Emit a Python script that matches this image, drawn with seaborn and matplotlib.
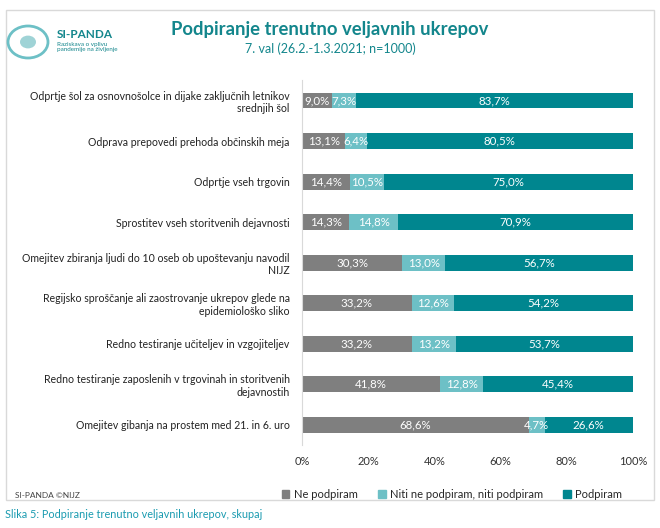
import numpy as np
import pandas as pd
import matplotlib.pyplot as plt
import seaborn as sns
from matplotlib.patches import Rectangle, Circle

categories = [
    "Odprtje šol za osnovnošolce in dijake zaključnih letnikov\nsrednjih šol",
    "Odprava prepovedi prehoda občinskih meja",
    "Odprtje vseh trgovin",
    "Sprostitev vseh storitvenih dejavnosti",
    "Omejitev zbiranja ljudi do 10 oseb ob upoštevanju navodil\nNIJZ",
    "Regijsko sproščanje ali zaostrovanje ukrepov glede na\nepidemiološko sliko",
    "Redno testiranje učiteljev in vzgojiteljev",
    "Redno testiranje zaposlenih v trgovinah in storitvenih\ndejavnostih",
    "Omejitev gibanja na prostem med 21. in 6. uro",
]
ne_podpiram = [9.0, 13.1, 14.4, 14.3, 30.3, 33.2, 33.2, 41.8, 68.6]
niti = [7.3, 6.4, 10.5, 14.8, 13.0, 12.6, 13.2, 12.8, 4.7]
podpiram = [83.7, 80.5, 75.0, 70.9, 56.7, 54.2, 53.7, 45.4, 26.6]
series_names = ["Ne podpiram", "Niti ne podpiram, niti podpiram", "Podpiram"]
colors = ["#7f7f7f", "#6dc0c6", "#00868f"]

df = pd.DataFrame({"kat": categories, "ne": ne_podpiram, "niti": niti, "da": podpiram})
df["c1"] = df["ne"]
df["c2"] = df["ne"] + df["niti"]
df["c3"] = df["c2"] + df["da"]

sns.set_style("white")
plt.rcParams["font.family"] = ["Lato", "DejaVu Sans"]

fig = plt.figure(figsize=(6.6, 5.28), dpi=100)
ax = fig.add_axes([0.4576, 0.157, 0.5015, 0.691])

# stacked bars: draw cumulative totals, back to front
for col, c in zip(["c3", "c2", "c1"], colors[::-1]):
    sns.barplot(data=df, x=col, y="kat", orient="h", color=c, width=0.39,
                saturation=1, ax=ax, edgecolor="none")

# value labels
for i, row in df.iterrows():
    starts = [0, row["c1"], row["c2"]]
    vals = [row["ne"], row["niti"], row["da"]]
    for s, v in zip(starts, vals):
        ax.text(s + v / 2, i, f"{v:.1f}%".replace(".", ","), ha="center",
                va="center", color="white", fontsize=8.3)

ax.set_xlim(0, 100)
ax.set_xticks([0, 20, 40, 60, 80, 100])
ax.set_xticklabels([f"{t}%" for t in range(0, 101, 20)], fontsize=8, color="#333333")
ax.set_xlabel("")
ax.set_ylabel("")
ax.tick_params(axis="y", labelsize=7.6, length=0, pad=9, labelcolor="#222222")
ax.tick_params(axis="x", length=0, pad=8)
for lbl in ax.get_yticklabels():
    lbl.set_horizontalalignment("right")
for sp in ["top", "right", "bottom"]:
    ax.spines[sp].set_visible(False)
ax.spines["left"].set_color("#d9d9d9")
ax.spines["left"].set_linewidth(0.8)

# frame around chart
fig.patches.append(Rectangle((6 / 660, 1 - 500 / 528), 648 / 660, 490 / 528,
                             transform=fig.transFigure, fill=False,
                             edgecolor="#d9d9d9", linewidth=1.0))

# title
fig.text(0.5, 1 - 30 / 528, "Podpiranje trenutno veljavnih ukrepov", ha="center",
         va="center", fontsize=13.3, color="#13868c", fontweight="bold")
fig.text(0.5, 1 - 49 / 528, "7. val (26.2.-1.3.2021; n=1000)", ha="center",
         va="center", fontsize=9, color="#13868c")

# logo approximation
fig.patches.append(Circle((28 / 660, 1 - 42 / 528), 20 / 660, transform=fig.transFigure,
                          fill=False, edgecolor="#6dc0c6", linewidth=2))
fig.patches.append(Circle((28 / 660, 1 - 42 / 528), 8 / 660, transform=fig.transFigure,
                          fill=True, facecolor="#9fd3d6", edgecolor="none"))
fig.text(57 / 660, 1 - 35 / 528, "SI-PANDA", fontsize=8.5, color="#13868c", fontweight="bold",
         va="center")
fig.text(57 / 660, 1 - 47 / 528, "Raziskava o vplivu\npandemije na življenje", fontsize=4.5,
         color="#13868c", va="center", linespacing=1.2)

# footer note
fig.text(15 / 660, 1 - 495 / 528, "SI-PANDA ©NIJZ", fontsize=6, color="#444444", va="center")

# legend
handles = [Rectangle((0, 0), 1, 1, color=c) for c in colors]
fig.legend(handles, series_names, loc="center", bbox_to_anchor=(452 / 660, 1 - 494 / 528),
           ncol=3, frameon=False, fontsize=8, handlelength=0.7, handleheight=0.7,
           handletextpad=0.4, columnspacing=1.8)

# caption
fig.text(5 / 660, 1 - 515 / 528, "Slika 5: Podpiranje trenutno veljavnih ukrepov, skupaj",
         fontsize=7.8, color="#1a9bb0", va="center")

fig.savefig("out.png", dpi=100)
